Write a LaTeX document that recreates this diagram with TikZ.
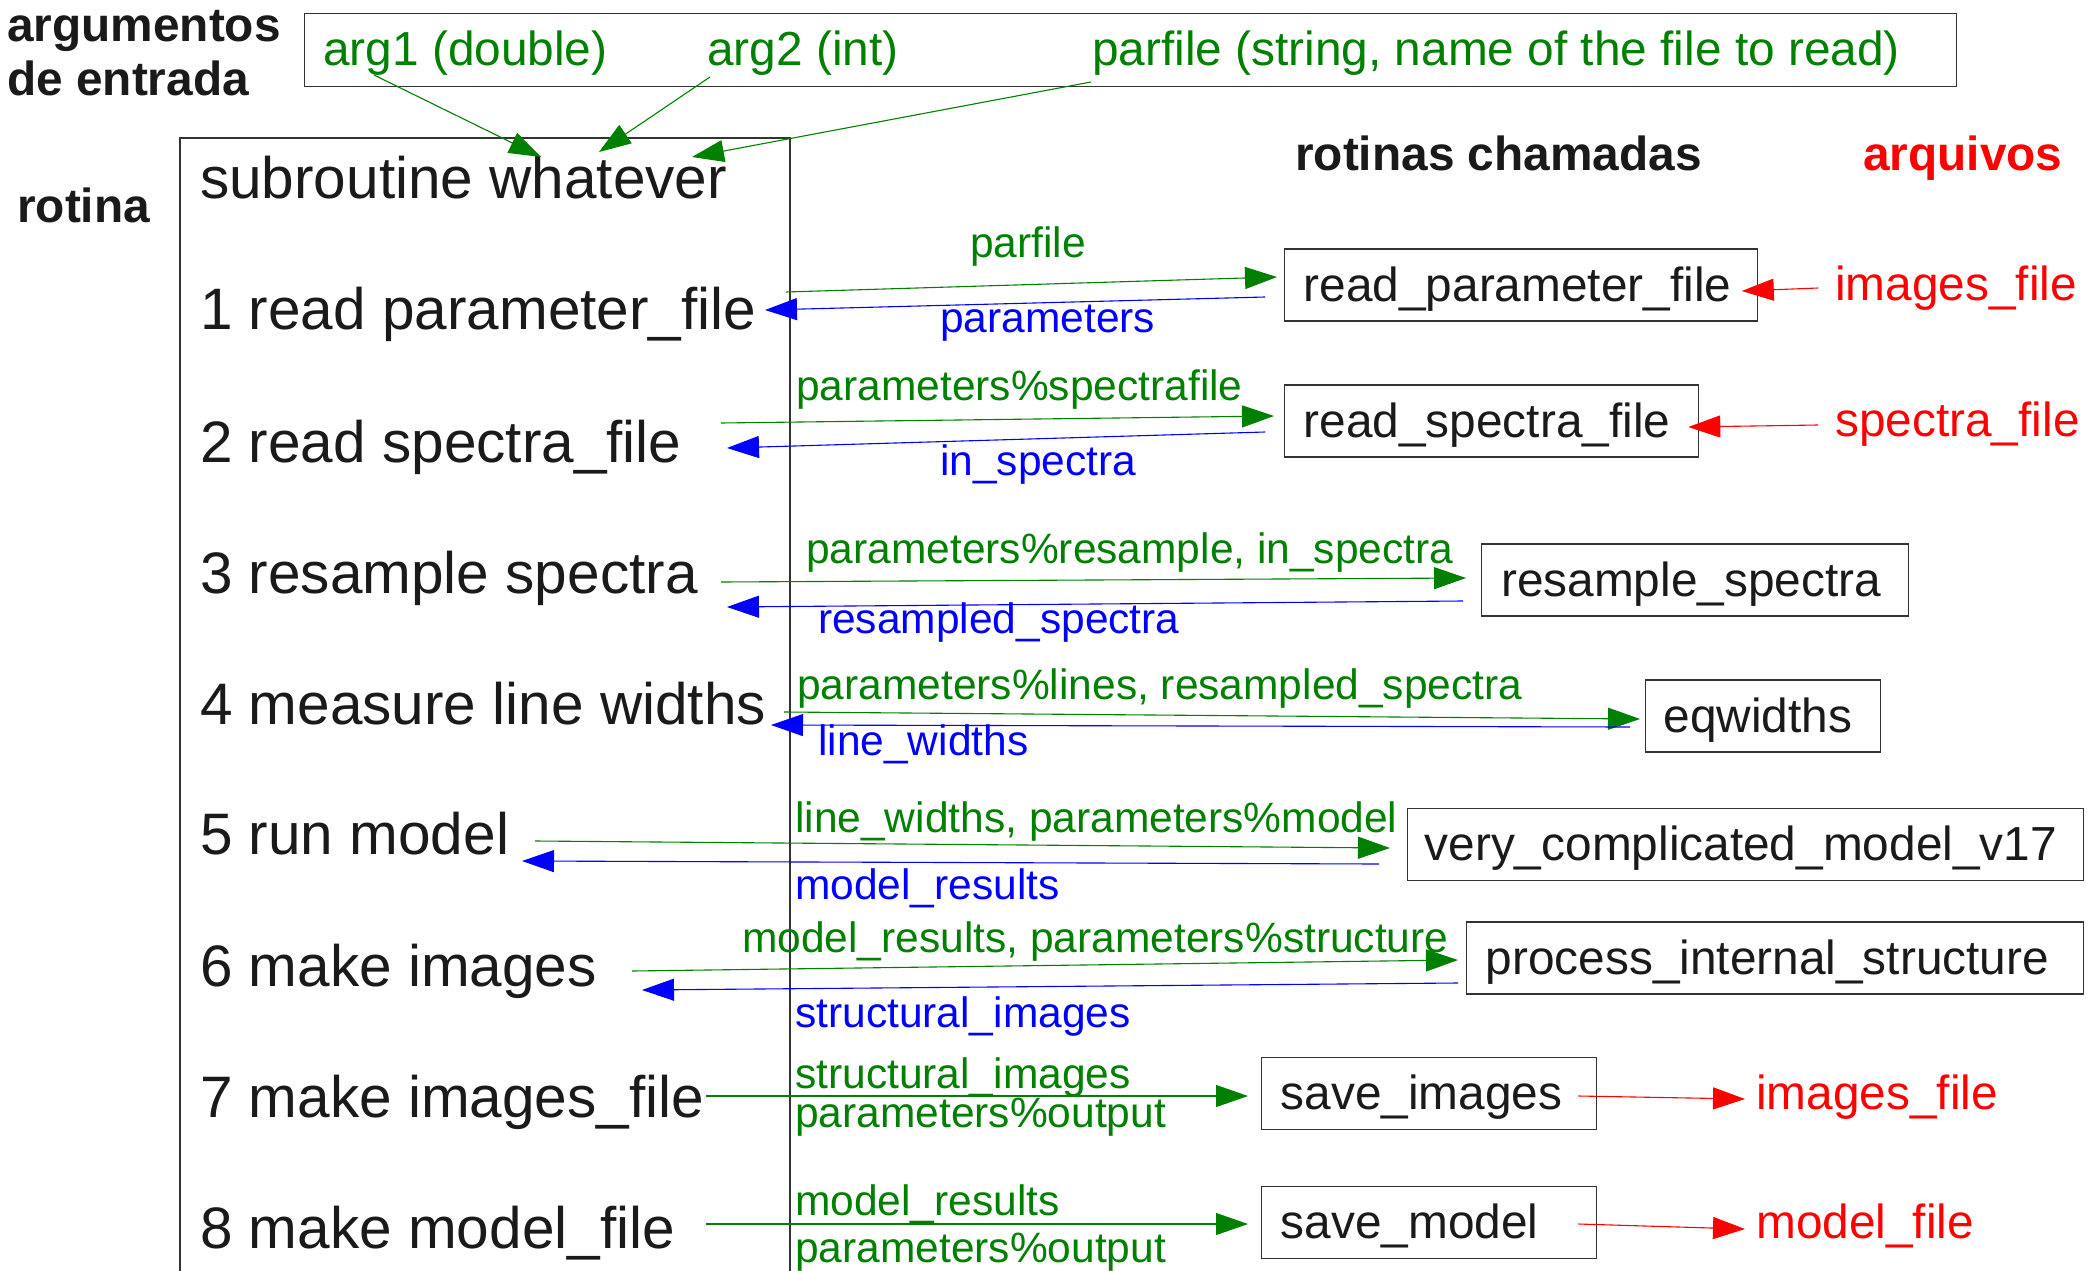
\documentclass[tikz,border=0pt]{standalone}
\usepackage{fontspec}
\setmainfont{Liberation Sans}
\usetikzlibrary{arrows.meta}
\definecolor{fgreen}{HTML}{008000}
\definecolor{fblue}{HTML}{0000FF}
\definecolor{fred}{HTML}{FF0000}
\definecolor{ink}{HTML}{1A1A1A}
\definecolor{boxc}{HTML}{333333}
\begin{document}
\begin{tikzpicture}[x=1pt,y=-1pt,
  txt/.style={anchor=base west, inner sep=0pt},
  big/.style={txt, font=\fontsize{58.5}{70}\selectfont, text=ink},
  hd/.style={txt, font=\fontsize{47.8}{57}\selectfont\bfseries, text=ink},
  lab/.style={txt, font=\fontsize{42.5}{51}\selectfont},
  argt/.style={txt, font=\fontsize{47.8}{57}\selectfont, text=fgreen},
  filt/.style={txt, font=\fontsize{47.8}{57}\selectfont, text=fred},
  callbox/.style={draw=boxc, line width=1.3pt, anchor=west, inner xsep=19pt, inner ysep=0pt,
    minimum height=72pt, text height=36pt, text depth=4pt, align=left,
    font=\fontsize{47.8}{57}\selectfont, text=ink},
  arr/.style={line width=1.1pt, -{Triangle[length=32pt,width=22pt]}},
  garr/.style={arr, draw=fgreen},
  barr/.style={arr, draw=fblue},
  rarr/.style={arr, draw=fred}
]
\useasboundingbox[fill=white] (0,0) rectangle (2088,1271);

% headings
\node[hd] (h1) at (7,42) {argumentos};
\node[hd] (h2) at (7,96) {de entrada};
\node[hd] (h3) at (17,222) {rotina};
\node[hd] (h4) at (1295,170) {rotinas chamadas};
\node[hd, text=fred] (h5) at (1863,170) {arquivos};

% argument box
\node[draw=boxc, line width=1.3pt, anchor=north west, minimum width=1652pt, minimum height=73pt, inner sep=0pt] (argbox) at (304,13) {};
\node[argt] (arg1) at (323,66) {arg1 (double)};
\node[argt] (arg2) at (707,66) {arg2 (int)};
\node[argt] (parf) at (1092,66) {parfile (string, name of the file to read)};

% routine box
\draw[boxc, line width=1.3pt] (180,1275) -- (180,138) -- (790,138) -- (790,1275);

\node[big] (r0) at (200,198) {subroutine whatever};
\node[big] (r1) at (200,329) {1 read parameter\_file};
\node[big] (r2) at (200,462) {2 read spectra\_file};
\node[big] (r3) at (200,593) {3 resample spectra};
\node[big] (r4) at (200,724) {4 measure line widths};
\node[big] (r5) at (200,854) {5 run model};
\node[big] (r6) at (200,986) {6 make images};
\node[big] (r7) at (200,1117) {7 make images\_file};
\node[big] (r8) at (200,1248) {8 make model\_file};

% called routines
\node[callbox, text width=434.5pt] (b1) at (1284,285) {read\_parameter\_file};
\node[callbox, text width=375.5pt] (b2) at (1284,421) {read\_spectra\_file};
\node[callbox, text width=388pt, inner xsep=19.5pt] (b3) at (1481,580) {resample\_spectra};
\node[callbox, text width=199pt, inner xsep=18pt] (b4) at (1645,716) {eqwidths};
\node[callbox, text width=642pt, inner xsep=17pt] (b5) at (1407,844.5) {very\_complicated\_model\_v17};
\node[callbox, text width=578.5pt, inner xsep=19.5pt] (b6) at (1465.5,958) {process\_internal\_structure};
\node[callbox, text width=296.5pt] (b7) at (1261,1093.5) {save\_images};
\node[callbox, text width=296.5pt] (b8) at (1261,1222.5) {save\_model};

% files
\node[filt] (f1) at (1835,300) {images\_file};
\node[filt] (f2) at (1835,436) {spectra\_file};
\node[filt] (f3) at (1756,1109) {images\_file};
\node[filt] (f4) at (1756,1238) {model\_file};

% arrow labels
\node[lab, text=fgreen] (l1g) at (970,257) {parfile};
\node[lab, text=fblue]  (l1b) at (940,332) {parameters};
\node[lab, text=fgreen] (l2g) at (796,400) {parameters\%spectrafile};
\node[lab, text=fblue]  (l2b) at (940,475) {in\_spectra};
\node[lab, text=fgreen] (l3g) at (806,563) {parameters\%resample, in\_spectra};
\node[lab, text=fblue]  (l3b) at (818,633) {resampled\_spectra};
\node[lab, text=fgreen] (l4g) at (797,699) {parameters\%lines, resampled\_spectra};
\node[lab, text=fblue]  (l4b) at (818,755) {line\_widths};
\node[lab, text=fgreen] (l5g) at (795,832) {line\_widths, parameters\%model};
\node[lab, text=fblue]  (l5b) at (795,899) {model\_results};
\node[lab, text=fgreen] (l6g) at (742,952) {model\_results, parameters\%structure};
\node[lab, text=fblue]  (l6b) at (795,1027) {structural\_images};
\node[lab, text=fgreen] (l7a) at (795,1088) {structural\_images};
\node[lab, text=fgreen] (l7b) at (795,1127) {parameters\%output};
\node[lab, text=fgreen] (l8a) at (795,1215) {model\_results};
\node[lab, text=fgreen] (l8b) at (795,1262) {parameters\%output};

% argument arrows
\draw[garr] ([shift={(51,9)}]arg1.base west) -- ([shift={(341,-41)}]r0.base west);
\draw[garr] ([shift={(3,11)}]arg2.base west) -- ([shift={(399,-46)}]r0.base west);
\draw[garr] ([shift={(-1,16)}]parf.base west) -- ([shift={(492,-41)}]r0.base west);

% row arrows
\draw[garr] ([shift={(586,-37)}]r1.base west) -- ([shift={(-7,-8)}]b1.west);
\draw[barr] ([shift={(-19,12)}]b1.west) -- ([shift={(565,-19)}]r1.base west);
\draw[garr] ([shift={(521,-39)}]r2.base west) -- ([shift={(-10,-5)}]b2.west);
\draw[barr] ([shift={(-19,11)}]b2.west) -- ([shift={(527,-14)}]r2.base west);
\draw[garr] ([shift={(521,-11)}]r3.base west) -- ([shift={(-15,-2)}]b3.west);
\draw[barr] ([shift={(-18,21)}]b3.west) -- ([shift={(527,14)}]r3.base west);
\draw[garr] ([shift={(584,-12)}]r4.base west) -- ([shift={(-5,3)}]b4.west);
\draw[barr] ([shift={(-15,11)}]b4.west) -- ([shift={(571,1)}]r4.base west);
\draw[garr] ([shift={(335,-13)}]r5.base west) -- ([shift={(-17,3.5)}]b5.west);
\draw[barr] ([shift={(-28,19.5)}]b5.west) -- ([shift={(322,7)}]r5.base west);
\draw[garr] ([shift={(432,-15)}]r6.base west) -- ([shift={(-7.5,2)}]b6.west);
\draw[barr] ([shift={(-7.5,25)}]b6.west) -- ([shift={(442,4)}]r6.base west);
\draw[garr] ([shift={(506,-21)}]r7.base west) -- ([shift={(-13,2.5)}]b7.west);
\draw[garr] ([shift={(506,-24)}]r8.base west) -- ([shift={(-13,1.5)}]b8.west);

% file arrows
\draw[rarr] ([shift={(-17,-12)}]f1.base west) -- ([shift={(-16,6)}]b1.east);
\draw[rarr] ([shift={(-17,-11)}]f2.base west) -- ([shift={(-10.5,6)}]b2.east);
\draw[rarr] ([shift={(-18.5,2.5)}]b7.east) -- ([shift={(-11,-10)}]f3.base west);
\draw[rarr] ([shift={(-18.5,1.5)}]b8.east) -- ([shift={(-11,-9)}]f4.base west);
\end{tikzpicture}
\end{document}
